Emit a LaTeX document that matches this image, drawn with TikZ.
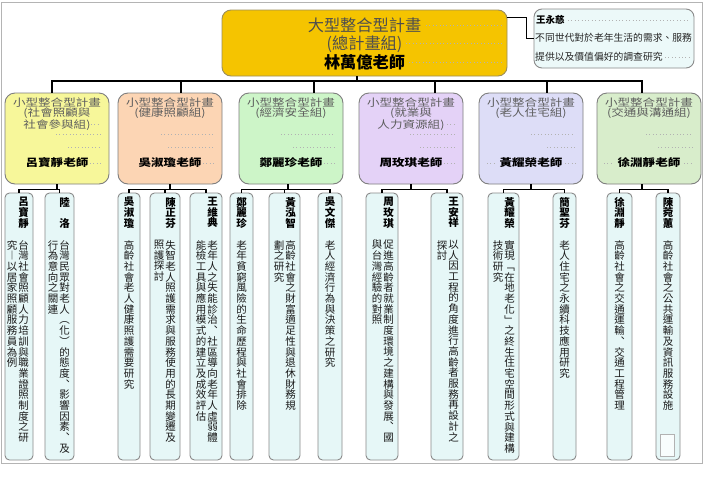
\documentclass[tikz,border=0pt]{standalone}
\usepackage{fontspec}
\newfontfamily\cjk{Noto Sans CJK TC}
\newfontfamily\cjkw[FakeStretch=1.22]{Noto Sans CJK TC}
\definecolor{topfill}{HTML}{F5C400}
\definecolor{topdraw}{HTML}{9C8E5A}
\definecolor{boxgray}{HTML}{7E7E7E}
\definecolor{subfill}{HTML}{E6F7F7}
\definecolor{subdraw}{HTML}{8A8A8A}
\definecolor{sidefill}{HTML}{ECF9F9}
\definecolor{framegray}{HTML}{B4B4B4}
\definecolor{titlegray}{HTML}{4E4E4E}
\definecolor{gtgray}{HTML}{5E5E5E}
\definecolor{gA}{HTML}{F7F79A}
\definecolor{gB}{HTML}{FCD5B4}
\definecolor{gC}{HTML}{CDF5C8}
\definecolor{gD}{HTML}{E4D2F7}
\definecolor{gE}{HTML}{DDDDF7}
\definecolor{gF}{HTML}{D8EDCB}
\newcommand\vtx[1]{\vbox{\baselineskip=10.7pt\lineskiplimit=-\maxdimen\lineskip=0pt\vtxA#1\relax}}
\def\vtxA#1{\ifx#1\relax\else\hbox to 11pt{\hss#1\hss}\expandafter\vtxA\fi}
\newcommand\mysub[3]{\node[subbox, minimum width={(#3)-(#2)}] (#1) at ({((#2)+(#3))/2},326.5) {};}
\tikzset{
  every node/.style={inner sep=0pt},
  conn/.style={line width=1.2pt, black},
  leader/.style={line width=0.8pt, gray!60, dash pattern=on 0.8pt off 2.6pt},
  topbox/.style={draw=topdraw, fill=topfill, line width=0.9pt, rounded corners=9pt, minimum width=285, minimum height=66},
  grp/.style={draw=boxgray, line width=0.9pt, rounded corners=10pt, minimum width=104, minimum height=91},
  subbox/.style={draw=subdraw, fill=subfill, line width=0.9pt, rounded corners=4.5pt, minimum height=267},
  sidebox/.style={draw=subdraw, fill=sidefill, line width=0.9pt, rounded corners=8pt, minimum width=160, minimum height=59},
  gtitle/.style={anchor=north, align=center, text=gtgray, font=\cjkw\fontsize{10.3}{10.6}\selectfont},
  gname/.style={font=\cjkw\bfseries\fontsize{10.3}{10.6}\selectfont, text=black},
  vname/.style={anchor=north, text=black, font=\cjk\bfseries\fontsize{10.5}{10.7}\selectfont},
  vtext/.style={anchor=north, text=black!90, font=\cjk\fontsize{10.5}{10.7}\selectfont},
  sidetxt/.style={anchor=west, text=black!85, font=\cjk\fontsize{9.8}{11}\selectfont}
}
\begin{document}
\begin{tikzpicture}[x=1pt,y=-1pt]
\useasboundingbox (0,0) rectangle (706,477);
\fill[white] (0,0) rectangle (706,477);
\draw[framegray, line width=0.8pt] (1,2) rectangle (702,463);

% top box
\node[topbox] (top) at (364.5,43) {};
\node[align=center, font=\cjk\fontsize{16.2}{18.5}\selectfont] (toptxt) at (364.5,43.5)
  {\textcolor{titlegray}{大型整合型計畫}\\\textcolor{titlegray}{(總計畫組)}\\\textbf{林萬億老師}};
\draw[leader] (426,25) -- (503,25);
\draw[leader] (406,43) -- (503,43);
\draw[leader] (409,62) -- (503,62);

% side box
\node[sidebox] (side) at (614,38.5) {};
\node[anchor=west, text=black, font=\cjk\bfseries\fontsize{9.5}{11}\selectfont] (sname) at (536,20) {王永慈};
\node[sidetxt] (sl1) at (535,38) {不同世代對於老年生活的需求、服務};
\node[sidetxt] (sl2) at (535,57) {提供以及價值偏好的調查研究};
\draw[leader] (568,20) -- (690,20);
\draw[leader] (665,57) -- (690,57);
\draw[conn] ([yshift=-8pt]top.north east) -- ++(19,0) |- (side.west);

% group boxes
\node[grp, fill=gA] (g1) at (57,138.5) {};
\node[grp, fill=gB] (g2) at (170,138.5) {};
\node[grp, fill=gC] (g3) at (291,138.5) {};
\node[grp, fill=gD] (g4) at (411,138.5) {};
\node[grp, fill=gE] (g5) at (531,138.5) {};
\node[grp, fill=gF] (g6) at (649,138.5) {};

\node[gtitle] (g1t) at (57,97.5) {小型整合型計畫\\(社會照顧與\\社會參與組)};
\node[gtitle] (g2t) at (170,97.5) {小型整合型計畫\\(健康照顧組)};
\node[gtitle] (g3t) at (291,97.5) {小型整合型計畫\\(經濟安全組)};
\node[gtitle] (g4t) at (411,97.5) {小型整合型計畫\\(就業與\\人力資源組)};
\node[gtitle] (g5t) at (531,97.5) {小型整合型計畫\\(老人住宅組)};
\node[gtitle] (g6t) at (649,97.5) {小型整合型計畫\\(交通與溝通組)};

\node[gname] (g1n) at (57,163) {呂寶靜老師};
\node[gname] (g2n) at (170,163) {吳淑瓊老師};
\node[gname] (g3n) at (291,163) {鄭麗珍老師};
\node[gname] (g4n) at (411,163) {周玫琪老師};
\node[gname] (g5n) at (531,163) {黃耀榮老師};
\node[gname] (g6n) at (649,163) {徐淵靜老師};

% leaders in group boxes
\draw[leader] (91,124) -- (101,124);
\draw[leader] (56,134) -- (101,134);
\draw[leader] (68,147) -- (101,147);
\draw[leader] (90,163) -- (101,163);
\draw[leader] (161,134) -- (214,134);
\draw[leader] (168,147) -- (214,147);
\draw[leader] (203,163) -- (214,163);
\draw[leader] (281,134) -- (335,134);
\draw[leader] (293,147) -- (335,147);
\draw[leader] (324,163) -- (335,163);
\draw[leader] (447,124) -- (455,124);
\draw[leader] (410,134) -- (455,134);
\draw[leader] (420,147) -- (455,147);
\draw[leader] (444,163) -- (455,163);
\draw[leader] (531,134) -- (575,134);
\draw[leader] (547,147) -- (575,147);
\draw[leader] (487,163) -- (497,163);
\draw[leader] (565,163) -- (576,163);
\draw[leader] (646,134) -- (693,134);
\draw[leader] (658,147) -- (693,147);
\draw[leader] (604,163) -- (614,163);
\draw[leader] (684,163) -- (694,163);

% top connectors
\coordinate (tb) at (357,81);
\draw[conn] (top.south -| tb) -- (tb);
\draw[conn] ([xshift=-5pt]g1.north) |- (tb);
\draw[conn] ([xshift=11pt]g2.north) |- (tb);
\draw[conn] ([xshift=23pt]g3.north) |- (tb);
\draw[conn] ([xshift=24pt]g4.north) |- (tb);
\draw[conn] ([xshift=16pt]g5.north) |- (tb);
\draw[conn] ([xshift=-7pt]g6.north) |- (tb);

% sub boxes
\mysub{sA}{5}{33}
\mysub{sB}{45}{74}
\mysub{sC}{118}{140}
\mysub{sD}{150}{180}
\mysub{sE}{190}{222}
\mysub{sF}{230}{253}
\mysub{sG}{269}{300}
\mysub{sH}{318}{342}
\mysub{sI}{366}{398}
\mysub{sJ}{431}{463}
\mysub{sK}{488}{519}
\mysub{sL}{553}{576}
\mysub{sM}{607}{632}
\mysub{sN}{656}{680}
\draw[gray!60, line width=0.6pt, fill=white!70!subfill] (660,434) rectangle (674,456);

% sub connectors
\coordinate (b1) at ([yshift=-5pt]g1.south);
\coordinate (b2) at ([yshift=-5pt]g2.south);
\coordinate (b3) at ([xshift=-3pt,yshift=-5pt]g3.south);
\coordinate (b4) at ([yshift=-5pt]g4.south);
\coordinate (b5) at ([yshift=-5pt]g5.south);
\coordinate (b6) at ([xshift=-7pt,yshift=-5pt]g6.south);
\foreach \b/\g in {b1/g1,b2/g2,b3/g3,b4/g4,b5/g5,b6/g6}{\draw[conn] (\b |- \g.south) -- (\b);}
\draw[conn] (sA.north) |- (b1); \draw[conn] (sB.north) |- (b1);
\draw[conn] (sC.north) |- (b2); \draw[conn] (sD.north) |- (b2); \draw[conn] (sE.north) |- (b2);
\draw[conn] (sF.north) |- (b3); \draw[conn] (sG.north) |- (b3); \draw[conn] (sH.north) |- (b3);
\draw[conn] (sI.north) |- (b4); \draw[conn] (sJ.north) |- (b4);
\draw[conn] (sK.north) |- (b5); \draw[conn] (sL.north) |- (b5);
\draw[conn] (sM.north) |- (b6); \draw[conn] (sN.north) |- (b6);

% vertical texts
\node[vname] (sAn) at (23.5,197) {\vtx{呂寶靜}};
\node[vtext] (sAr) at (23.5,240) {\vtx{台灣社會照顧人力培訓與職業證照制度之研}};
\node[vtext] (sAl) at (12,240) {\vtx{究︱以居家照顧服務員為例}};
\node[vname] (sBn) at (64.5,197) {\vtx{陸　洛}};
\node[vtext] (sBr) at (64.5,240) {\vtx{台灣民眾對老人︵化︶的態度︑影響因素︑及}};
\node[vtext] (sBl) at (53,240) {\vtx{行為意向之關連}};
\node[vname] (sCn) at (129,197) {\vtx{吳淑瓊}};
\node[vtext] (sCr) at (129,240) {\vtx{高齡社會老人健康照護需要研究}};
\node[vname] (sDn) at (170.5,197) {\vtx{陳正芬}};
\node[vtext] (sDr) at (170.5,240) {\vtx{失智老人照護需求與服務使用的長期變遷及}};
\node[vtext] (sDl) at (159,240) {\vtx{照護探討}};
\node[vname] (sEn) at (212.5,197) {\vtx{王維典}};
\node[vtext] (sEr) at (212.5,240) {\vtx{老年人之失能診治︑社區導向老年人虛弱體}};
\node[vtext] (sEl) at (201,240) {\vtx{能檢工具與應用模式的建立及成效評估}};
\node[vname] (sFn) at (241.5,197) {\vtx{鄭麗珍}};
\node[vtext] (sFr) at (241.5,240) {\vtx{老年貧窮風險的生命歷程與社會排除}};
\node[vname] (sGn) at (290.5,197) {\vtx{黃泓智}};
\node[vtext] (sGr) at (290.5,240) {\vtx{高齡社會之財富適足性與退休財務規}};
\node[vtext] (sGl) at (279,240) {\vtx{劃之研究}};
\node[vname] (sHn) at (330,197) {\vtx{吳文傑}};
\node[vtext] (sHr) at (330,240) {\vtx{老人經濟行為與決策之研究}};
\node[vname] (sIn) at (388.5,197) {\vtx{周玫琪}};
\node[vtext] (sIr) at (388.5,240) {\vtx{促進高齡者就業制度環境之建構與發展︑國}};
\node[vtext] (sIl) at (377,240) {\vtx{與台灣經驗的對照}};
\node[vname] (sJn) at (453.5,197) {\vtx{王安祥}};
\node[vtext] (sJr) at (453.5,240) {\vtx{以人因工程的角度進行高齡者服務再設計之}};
\node[vtext] (sJl) at (442,240) {\vtx{探討}};
\node[vname] (sKn) at (509.5,197) {\vtx{黃耀榮}};
\node[vtext] (sKr) at (509.5,240) {\vtx{實現﹁在地老化﹂之終生住宅空間形式與建構}};
\node[vtext] (sKl) at (498,240) {\vtx{技術研究}};
\node[vname] (sLn) at (564.5,197) {\vtx{簡聖芬}};
\node[vtext] (sLr) at (564.5,240) {\vtx{老人住宅之永續科技應用研究}};
\node[vname] (sMn) at (619.5,197) {\vtx{徐淵靜}};
\node[vtext] (sMr) at (619.5,240) {\vtx{高齡社會之交通運輸︑交通工程管理}};
\node[vname] (sNn) at (668,197) {\vtx{陳菀蕙}};
\node[vtext] (sNr) at (668,240) {\vtx{高齡社會之公共運輸及資訊服務設施}};
\end{tikzpicture}
\end{document}
